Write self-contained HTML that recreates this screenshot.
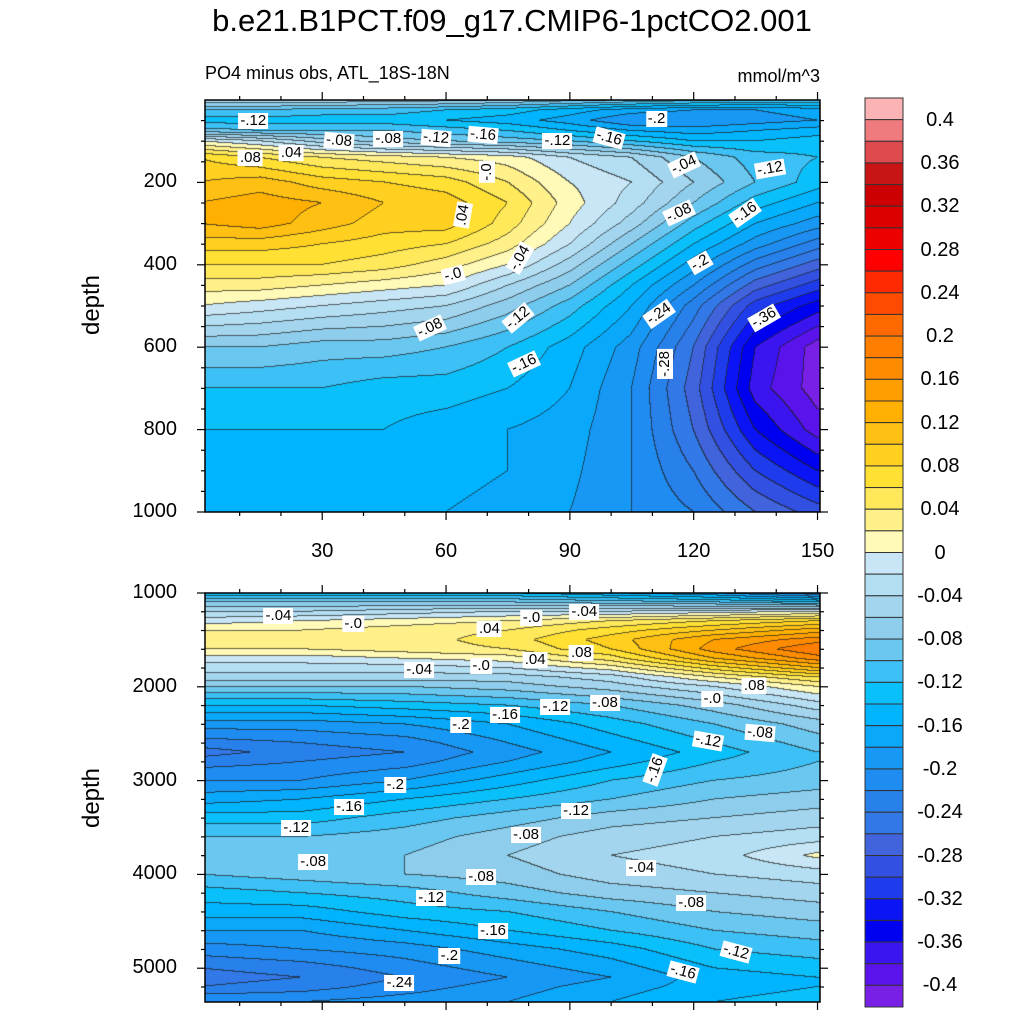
<!DOCTYPE html>
<html><head><meta charset="utf-8">
<style>
body{margin:0;background:#fff;width:1024px;height:1024px;position:relative;overflow:hidden;font-family:"Liberation Sans",sans-serif;}
.abs{position:absolute;}
.lbl{position:absolute;background:#fff;font-size:15px;line-height:16px;padding:0 2px;transform:translate(-50%,-50%);white-space:nowrap;color:#000;}
.tick{position:absolute;font-size:20px;color:#000;}
</style></head>
<body>
<div class="abs" style="left:0;width:1024px;top:3px;text-align:center;font-size:31px;">b.e21.B1PCT.f09_g17.CMIP6-1pctCO2.001</div>
<div class="abs" style="left:205px;top:63px;font-size:18px;">PO4 minus obs, ATL_18S-18N</div>
<div class="abs" style="right:204px;top:66px;font-size:18px;">mmol/m^3</div>

<canvas id="cTop" class="abs" width="615" height="412" style="left:205px;top:100px;"></canvas>
<canvas id="cBot" class="abs" width="615" height="409" style="left:205px;top:593px;"></canvas>
<svg id="axes" class="abs" width="1024" height="1024" style="left:0;top:0;"></svg>
<div id="labels" class="abs" style="left:0;top:0;width:1024px;height:1024px;"></div>
<div class="abs" style="left:92px;top:305px;font-size:24px;transform:translate(-50%,-50%) rotate(-90deg);">depth</div>
<div class="abs" style="left:92px;top:798px;font-size:24px;transform:translate(-50%,-50%) rotate(-90deg);">depth</div>
<svg id="cbar" class="abs" width="40" height="911" style="left:864px;top:97px;"></svg>

<script>
// ---------- data ----------
const topX = [0,15,30,45,60,75,90,105,120,135,150];
const topDepth = [0,25,50,75,100,140,200,250,300,350,400,450,500,600,700,800,900,1000];
const topValues = [
[-0.04,-0.04,-0.04,-0.05,-0.05,-0.06,-0.07,-0.08,-0.09,-0.1,-0.1],
[-0.1,-0.1,-0.11,-0.11,-0.12,-0.13,-0.15,-0.17,-0.18,-0.18,-0.17],
[-0.13,-0.13,-0.13,-0.13,-0.14,-0.15,-0.17,-0.2,-0.2,-0.19,-0.18],
[-0.09,-0.1,-0.1,-0.1,-0.11,-0.12,-0.14,-0.16,-0.17,-0.16,-0.15],
[0.0,-0.02,-0.05,-0.07,-0.08,-0.09,-0.1,-0.12,-0.14,-0.14,-0.13],
[0.08,0.06,0.04,0.03,0.02,0.01,-0.02,-0.04,-0.08,-0.11,-0.12],
[0.10,0.11,0.09,0.08,0.07,0.04,0.0,-0.02,-0.06,-0.1,-0.13],
[0.12,0.13,0.12,0.1,0.09,0.06,0.01,-0.03,-0.08,-0.13,-0.16],
[0.12,0.13,0.11,0.09,0.09,0.05,0.0,-0.05,-0.11,-0.16,-0.19],
[0.09,0.09,0.08,0.07,0.06,0.03,-0.02,-0.08,-0.14,-0.19,-0.23],
[0.06,0.06,0.06,0.05,0.03,0.0,-0.05,-0.11,-0.17,-0.23,-0.27],
[0.03,0.03,0.02,0.01,0.0,-0.04,-0.08,-0.14,-0.2,-0.27,-0.31],
[0.0,-0.01,-0.02,-0.03,-0.04,-0.07,-0.11,-0.16,-0.23,-0.31,-0.35],
[-0.08,-0.08,-0.09,-0.09,-0.1,-0.12,-0.15,-0.19,-0.26,-0.36,-0.41],
[-0.12,-0.12,-0.12,-0.13,-0.13,-0.14,-0.16,-0.2,-0.27,-0.37,-0.41],
[-0.14,-0.14,-0.14,-0.14,-0.15,-0.16,-0.17,-0.2,-0.26,-0.34,-0.39],
[-0.15,-0.15,-0.15,-0.15,-0.155,-0.16,-0.175,-0.2,-0.24,-0.3,-0.34],
[-0.15,-0.155,-0.155,-0.155,-0.16,-0.165,-0.18,-0.2,-0.22,-0.26,-0.29]];
const botX = [0,25,50,75,100,125,150];
const botDepth = [1000,1100,1200,1300,1400,1500,1600,1700,1800,1900,2000,2200,2400,2600,2700,2800,3000,3200,3400,3600,3800,4000,4200,4400,4600,4800,5000,5100,5200,5360];
const botValues = [
[-0.14,-0.14,-0.14,-0.14,-0.16,-0.18,-0.22],
[-0.08,-0.08,-0.08,-0.08,-0.09,-0.1,-0.12],
[-0.04,-0.04,-0.03,-0.02,-0.02,-0.01,0.0],
[-0.01,0.0,0.01,0.02,0.04,0.06,0.08],
[0.02,0.02,0.03,0.04,0.07,0.10,0.13],
[0.03,0.03,0.03,0.05,0.09,0.14,0.17],
[0.02,0.02,0.03,0.04,0.08,0.15,0.2],
[-0.01,-0.01,0.0,0.01,0.05,0.12,0.17],
[-0.03,-0.03,-0.03,-0.02,0.01,0.07,0.12],
[-0.05,-0.05,-0.05,-0.05,-0.03,0.02,0.06],
[-0.08,-0.08,-0.08,-0.07,-0.05,-0.02,0.02],
[-0.14,-0.14,-0.13,-0.12,-0.1,-0.07,-0.03],
[-0.19,-0.19,-0.18,-0.16,-0.13,-0.1,-0.07],
[-0.23,-0.22,-0.21,-0.18,-0.15,-0.12,-0.09],
[-0.25,-0.23,-0.22,-0.19,-0.16,-0.13,-0.1],
[-0.23,-0.22,-0.21,-0.18,-0.15,-0.12,-0.1],
[-0.2,-0.2,-0.18,-0.15,-0.12,-0.1,-0.09],
[-0.17,-0.16,-0.14,-0.12,-0.1,-0.08,-0.07],
[-0.13,-0.13,-0.11,-0.09,-0.07,-0.06,-0.05],
[-0.1,-0.1,-0.09,-0.07,-0.05,-0.04,-0.03],
[-0.08,-0.08,-0.08,-0.06,-0.04,-0.03,0.005],
[-0.1,-0.09,-0.08,-0.07,-0.05,-0.04,-0.03],
[-0.13,-0.12,-0.11,-0.09,-0.07,-0.06,-0.05],
[-0.15,-0.15,-0.13,-0.12,-0.1,-0.08,-0.07],
[-0.18,-0.18,-0.16,-0.14,-0.12,-0.1,-0.09],
[-0.21,-0.2,-0.19,-0.17,-0.15,-0.12,-0.11],
[-0.24,-0.23,-0.21,-0.19,-0.17,-0.14,-0.13],
[-0.25,-0.24,-0.22,-0.2,-0.18,-0.15,-0.14],
[-0.24,-0.23,-0.21,-0.19,-0.17,-0.15,-0.14],
[-0.2,-0.2,-0.19,-0.18,-0.16,-0.14,-0.13]];
const xTicks = [30,60,90,120,150];
const topYTicks = [200,400,600,800,1000];
const botYTicks = [1000,2000,3000,4000,5000];
const cbarTickLabels = ["0.4","0.36","0.32","0.28","0.24","0.2","0.16","0.12","0.08","0.04","0","-0.04","-0.08","-0.12","-0.16","-0.2","-0.24","-0.28","-0.32","-0.36","-0.4"];
const topLabelText = ["-.12","-.08","-.08","-.12","-.16","-.2","-.12","-.16",".08",".04","-.0",".04","-.0","-.08","-.04","-.12","-.16","-.04","-.08","-.12","-.16","-.2","-.24","-.28","-.36"];
const topLabelX = [13.3,34,46,57.6,69,111,87,99.5,12.6,22.5,70,64,61.7,56,78,77.5,79,117.7,116.5,138.5,132.5,121.5,111.6,113,137];
const topLabelD = [51,99,95,92,85,46,99,92,141,128,175,279,424,553,383,528,640,158,274,167,274,395,519,640,528];
const topLabelRot = [0,5,0,5,5,0,0,15,0,0,-90,-80,-15,-25,-60,-40,-25,-25,-25,-10,-35,-30,-35,-90,-30];
const botLabelText = ["-.04","-.0",".04","-.0","-.04","-.04","-.0",".04",".08",".08","-.0","-.16","-.2","-.12","-.08","-.12","-.08","-.16","-.2","-.16","-.12","-.12","-.08","-.08","-.04","-.08","-.08","-.12","-.16","-.12","-.2","-.24","-.16"];
const botLabelX = [19.4,37.5,70.5,80.7,93.5,53.5,68.5,81.6,92.8,134.7,124.5,74.3,63.6,86.5,98.5,123.5,136,110.7,47.7,36.5,23.7,91.5,79.4,27.8,107.3,68.5,119.4,56.4,71.4,130.3,60.8,48.7,117.5];
const botLabelD = [1245,1330,1384,1267,1203,1821,1779,1715,1640,1992,2130,2300,2408,2216,2173,2579,2493,2888,3048,3283,3507,3325,3581,3869,3933,4029,4307,4253,4605,4829,4872,5160,5043];
const botLabelRot = [0,0,0,0,0,0,0,0,0,0,0,0,0,0,0,10,5,-70,0,0,0,0,0,0,0,0,0,0,0,15,0,0,15];

// ---------- styles ----------
const levelMin=-0.42, levelStep=0.02, nLevels=42;
const colors = ["#7820e6","#5a14eb","#3c14f0","#0000f0","#0a14f5","#1e3cec","#3250e1","#4164dc","#3278e6","#2880eb","#1e8cf0","#1898f5","#0aa8fa","#00b4ff","#0ac0fa","#3cc0f5","#6ac8f0","#8ecdeb","#a3d6ee","#b4dff3","#c8e6f5",
"#fffab8","#fff08a","#ffe95a","#ffe033","#ffd020","#ffc014","#ffb000","#ff9e00","#ff8c00","#ff7e00","#ff6a00","#ff4b00","#ff2a00","#ff0000","#ec0000","#dc0000","#cc0000","#c81414","#de4a4d","#ef7b7f","#fbb3b6"];

const xDom=[1.6,150.6], xRange=[205,820];
const xs = v => xRange[0]+(v-xDom[0])*(xRange[1]-xRange[0])/(xDom[1]-xDom[0]);
const xInv = p => xDom[0]+(p-xRange[0])*(xDom[1]-xDom[0])/(xRange[1]-xRange[0]);
const topY = d => 100+d*412/1000, topYInv = p => (p-100)*1000/412;
const botY = d => 593+(d-1000)*409/4360, botYInv = p => 1000+(p-593)*4360/409;

function seg(arr,v){let i=0;while(i<arr.length-2&&v>arr[i+1])i++;let t=(v-arr[i])/(arr[i+1]-arr[i]);t=Math.max(0,Math.min(1,t));return [i,t];}
function interp(X,Y,V,x,y){const [i,tx]=seg(X,x);const [j,ty]=seg(Y,y);
 const a=V[j][i]*(1-tx)+V[j][i+1]*tx, b=V[j+1][i]*(1-tx)+V[j+1][i+1]*tx; return a*(1-ty)+b*ty;}
function hex(h){return [parseInt(h.substr(1,2),16),parseInt(h.substr(3,2),16),parseInt(h.substr(5,2),16)];}
const rgb = colors.map(hex);

function drawPanel(id,X,Y,V,left,top,yInv){
 const c=document.getElementById(id),ctx=c.getContext('2d'),w=c.width,h=c.height;
 const img=ctx.createImageData(w,h),idx=new Int16Array(w*h);
 for(let py=0;py<h;py++){const d=yInv(top+py+0.5);
  for(let px=0;px<w;px++){const x=xInv(left+px+0.5);const v=interp(X,Y,V,x,d);
   let k=Math.floor((v-levelMin)/levelStep);k=Math.max(0,Math.min(nLevels-1,k));idx[py*w+px]=k;}}
 for(let p=0;p<w*h;p++){const px=p%w,py=(p-px)/w;let k=idx[p];let col=rgb[k];
  const edge=(px<w-1&&idx[p+1]!==k)||(py<h-1&&idx[p+w]!==k);
  const o=p*4; if(edge){img.data[o]=col[0]*0.3+20;img.data[o+1]=col[1]*0.3+20;img.data[o+2]=col[2]*0.3+20;}
  else{img.data[o]=col[0];img.data[o+1]=col[1];img.data[o+2]=col[2];}
  img.data[o+3]=255;}
 ctx.putImageData(img,0,0);
}
drawPanel('cTop',topX,topDepth,topValues,205,100,topYInv);
drawPanel('cBot',botX,botDepth,botValues,205,593,botYInv);

// ---------- axes ----------
const svg=document.getElementById('axes');const NS='http://www.w3.org/2000/svg';
function line(x1,y1,x2,y2,name){const l=document.createElementNS(NS,'line');
 l.setAttribute('x1',x1);l.setAttribute('y1',y1);l.setAttribute('x2',x2);l.setAttribute('y2',y2);
 l.setAttribute('stroke','#000');l.setAttribute('stroke-width','1.2');
 
 
 svg.appendChild(l);}
function frame(t,b,name){const r=document.createElementNS(NS,'rect');
 r.setAttribute('x',205);r.setAttribute('y',t);r.setAttribute('width',615);r.setAttribute('height',b-t);
 r.setAttribute('fill','none');r.setAttribute('stroke','#000');r.setAttribute('stroke-width','1.5');
 
 
 svg.appendChild(r);}
frame(100,512,'top-plot-frame');frame(593,1002,'bottom-plot-frame');
[[100,512],[593,1002]].forEach(([t,b])=>{
 for(let v=10;v<=150;v+=10){const p=xs(v);const L=(v%30===0)?8:4;line(p,t,p,t-L,'x-tick');line(p,b,p,b+L,'x-tick');}
});
for(let d=50;d<=1000;d+=50){const p=topY(d);const L=(d%200===0)?8:4;line(205,p,205-L,p,'y-tick');line(820,p,820+L,p,'y-tick');}
for(let d=1000;d<=5200;d+=200){const p=botY(d);const L=(d%1000===0)?8:4;line(205,p,205-L,p,'y-tick');line(820,p,820+L,p,'y-tick');}
function txt(s,x,y,align,name){const e=document.createElement('div');e.className='tick';e.textContent=s;
 e.style.top=(y-12)+'px';
 if(align==='r'){e.style.right=(1024-x)+'px';}else{e.style.left=(x-40)+'px';e.style.width='80px';e.style.textAlign='center';}
 
 
 document.body.appendChild(e);}
xTicks.forEach(v=>txt(String(v),xs(v),552,'c','x-tick-label'));
topYTicks.forEach(d=>txt(String(d),177,topY(d),'r','top-y-tick-label'));
botYTicks.forEach(d=>txt(String(d),177,botY(d),'r','bottom-y-tick-label'));

// ---------- contour labels ----------
const lab=document.getElementById('labels');
function addLabel(t,x,y,rot,name){const e=document.createElement('div');e.className='lbl';e.textContent=t;
 e.style.left=x+'px';e.style.top=y+'px';e.style.transform='translate(-50%,-50%) rotate('+rot+'deg)';
 
 
 lab.appendChild(e);}
topLabelText.forEach((t,i)=>addLabel(t,xs(topLabelX[i]),topY(topLabelD[i]),topLabelRot[i],'top-contour-label'));
botLabelText.forEach((t,i)=>addLabel(t,xs(botLabelX[i]),botY(botLabelD[i]),botLabelRot[i],'bottom-contour-label'));

// ---------- colorbar ----------
const cb=document.getElementById('cbar');const boxH=909/nLevels;
for(let k=nLevels-1;k>=0;k--){const b=document.createElementNS(NS,'rect');
 b.setAttribute('x',1);b.setAttribute('width',38);
 b.setAttribute('y',1+(nLevels-1-k)*boxH);b.setAttribute('height',boxH);
 b.setAttribute('fill',colors[k]);b.setAttribute('stroke','#333');b.setAttribute('stroke-width','1');
 
 
 cb.appendChild(b);}
cbarTickLabels.forEach((s,i)=>{const e=document.createElement('div');e.className='tick';e.textContent=s;
 e.style.left='900px';e.style.width='80px';e.style.textAlign='center';e.style.top=(98+(i*2+1)*boxH-11)+'px';
 
 
 document.body.appendChild(e);});
</script>
</body></html>
